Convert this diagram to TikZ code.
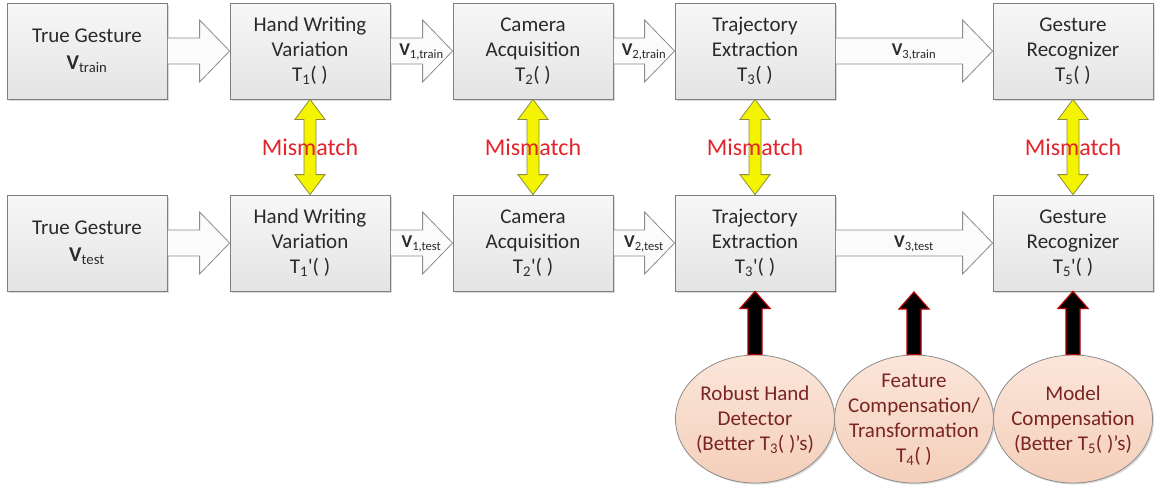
\documentclass[tikz,border=0pt]{standalone}
\usepackage{fontspec}
\setmainfont{Carlito}
\usetikzlibrary{calc,shadows,shapes.geometric}
\definecolor{boxborder}{HTML}{7F7F7F}
\definecolor{boxtop}{HTML}{F7F7F7}
\definecolor{boxbot}{HTML}{E4E4E4}
\definecolor{boxtext}{HTML}{2A2A2A}
\definecolor{arrborder}{HTML}{8C8C8C}
\definecolor{arrfill}{HTML}{FBFBFB}
\definecolor{mmfill}{HTML}{F4F400}
\definecolor{mmborder}{HTML}{8A8A40}
\definecolor{mmtext}{HTML}{E2242C}
\definecolor{elltop}{HTML}{FBE6DA}
\definecolor{ellbot}{HTML}{F4CFBA}
\definecolor{elltext}{HTML}{7A2424}
\definecolor{blkborder}{HTML}{B00000}
\tikzset{
  procbox/.style={draw=boxborder, line width=0.8pt, top color=boxtop, bottom color=boxbot,
    minimum width=160pt, minimum height=96pt, align=center, inner sep=2pt,
    font=\fontsize{21}{25}\selectfont, text=boxtext,
    drop shadow={shadow xshift=1.5pt, shadow yshift=-1.5pt, opacity=0.3}},
  flowarr/.style={draw=arrborder, fill=arrfill, line width=0.8pt, line join=miter},
  vlabel/.style={font=\fontsize{18}{20}\selectfont, text=boxtext, inner sep=0pt},
  mmarr/.style={draw=mmborder, fill=mmfill, line width=0.8pt},
  mmlabel/.style={font=\fontsize{24}{26}\selectfont, text=mmtext, inner sep=0pt},
  blkarr/.style={draw=blkborder, fill=black, line width=1.2pt},
  ellbox/.style={ellipse, draw=arrborder, line width=0.8pt, top color=elltop, bottom color=ellbot,
    minimum width=159pt, minimum height=128pt, inner sep=0pt,
    drop shadow={shadow xshift=1.5pt, shadow yshift=-1.5pt, opacity=0.3}},
  elltxt/.style={align=center, font=\fontsize{21}{25}\selectfont, text=elltext, inner sep=0pt}
}
\newcommand\flowarrow[4]{%
  \draw[flowarr] ($(#1.east)+(0,-13)$) -- ($(#2.west)+(-30,-13)$) -- ($(#2.west)+(-30,-31)$)
    -- (#2.west) -- ($(#2.west)+(-30,31)$) -- ($(#2.west)+(-30,13)$) -- ($(#1.east)+(0,13)$) -- cycle;
  \node[vlabel] (#4) at ($(#1.east)!0.5!(#2.west)+(0,1)$) {#3};
}
\newcommand\mmarrow[3]{%
  \draw[mmarr] (#1.south) -- ($(#1.south)+(15,20)$) -- ($(#1.south)+(6,20)$) -- ($(#2.north)+(6,-20)$)
    -- ($(#2.north)+(15,-20)$) -- (#2.north) -- ($(#2.north)+(-15,-20)$) -- ($(#2.north)+(-6,-20)$)
    -- ($(#1.south)+(-6,20)$) -- ($(#1.south)+(-15,20)$) -- cycle;
  \node[mmlabel] (#3) at ($(#1.south)!0.5!(#2.north)$) {Mismatch};
}
\newcommand\blkarrow[2]{%
  \draw[blkarr] (#2) -- ($(#2)+(15,17)$) -- ($(#2)+(7,17)$) -- ($(#1.north)+(7,0)$)
    -- ($(#1.north)+(-7,0)$) -- ($(#2)+(-7,17)$) -- ($(#2)+(-15,17)$) -- cycle;
}
\begin{document}
\begin{tikzpicture}[x=1pt,y=-1pt]
\useasboundingbox (0,0) rectangle (1162,488);
% top row
\node[procbox] (a1) at (87,51) {True Gesture\\[2pt]\textbf{V}\textsubscript{train}};
\node[procbox] (a2) at (310,51) {Hand Writing\\Variation\\T\textsubscript{1}( )};
\node[procbox] (a3) at (533,51) {Camera\\Acquisition\\T\textsubscript{2}( )};
\node[procbox] (a4) at (755,51) {Trajectory\\Extraction\\T\textsubscript{3}( )};
\node[procbox] (a5) at (1073,51) {Gesture\\Recognizer\\T\textsubscript{5}( )};
% bottom row
\node[procbox] (b1) at (87,243) {True Gesture\\[2pt]\textbf{V}\textsubscript{test}};
\node[procbox] (b2) at (310,243) {Hand Writing\\Variation\\T\textsubscript{1}\textquotesingle( )};
\node[procbox] (b3) at (533,243) {Camera\\Acquisition\\T\textsubscript{2}\textquotesingle( )};
\node[procbox] (b4) at (755,243) {Trajectory\\Extraction\\T\textsubscript{3}\textquotesingle( )};
\node[procbox] (b5) at (1073,243) {Gesture\\Recognizer\\T\textsubscript{5}\textquotesingle( )};
% flow arrows
\flowarrow{a1}{a2}{}{la1}
\flowarrow{a2}{a3}{\textbf{V}\textsubscript{1,train}}{la2}
\flowarrow{a3}{a4}{\textbf{V}\textsubscript{2,train}}{la3}
\flowarrow{a4}{a5}{\textbf{V}\textsubscript{3,train}}{la4}
\flowarrow{b1}{b2}{}{lb1}
\flowarrow{b2}{b3}{\textbf{V}\textsubscript{1,test}}{lb2}
\flowarrow{b3}{b4}{\textbf{V}\textsubscript{2,test}}{lb3}
\flowarrow{b4}{b5}{\textbf{V}\textsubscript{3,test}}{lb4}
% mismatch arrows
\mmarrow{a2}{b2}{m2}
\mmarrow{a3}{b3}{m3}
\mmarrow{a4}{b4}{m4}
\mmarrow{a5}{b5}{m5}
% ellipses
\node[ellbox] (e1) at (755,419) {};
\node[ellbox] (e2) at (914,419) {};
\node[ellbox] (e3) at (1073,419) {};
\node[elltxt] (t1) at ($(e1)+(0,1)$) {Robust Hand\\Detector\\(Better T\textsubscript{3}( )’s)};
\node[elltxt] (t2) at ($(e2)+(0,1)$) {Feature\\Compensation/\\Transformation\\T\textsubscript{4}( )};
\node[elltxt] (t3) at ($(e3)+(0,1)$) {Model\\Compensation\\(Better T\textsubscript{5}( )’s)};
\coordinate (c2) at (914,292);
\blkarrow{e1}{b4.south}
\blkarrow{e2}{c2}
\blkarrow{e3}{b5.south}
\end{tikzpicture}
\end{document}
